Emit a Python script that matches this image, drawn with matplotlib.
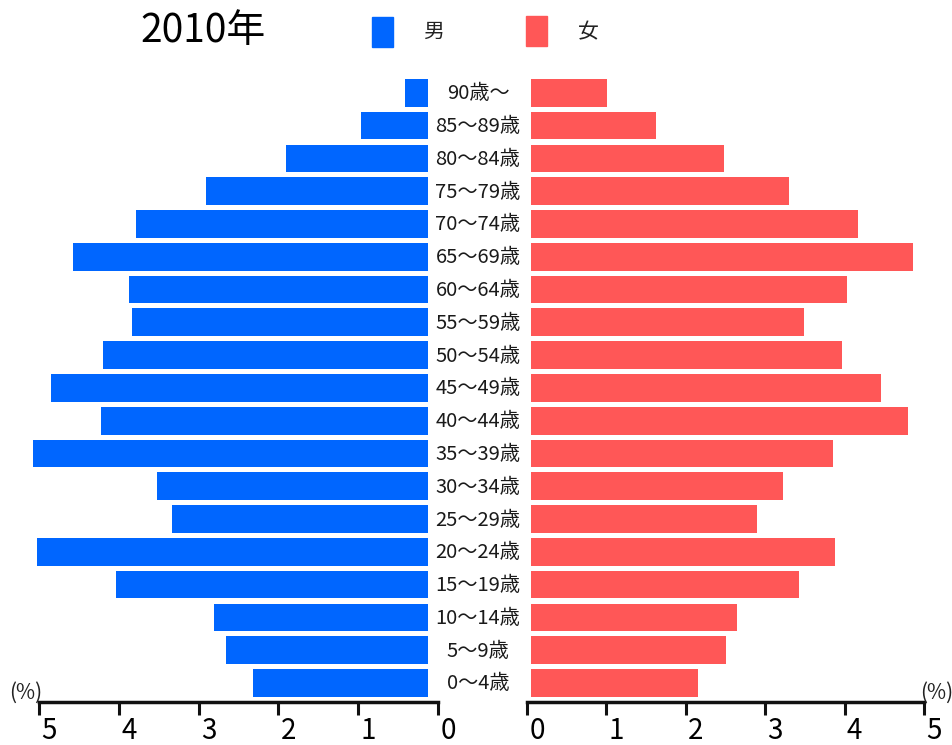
import matplotlib.pyplot as plt
from matplotlib.transforms import ScaledTranslation, blended_transform_factory

plt.rcParams['font.family'] = ['Noto Sans CJK JP', 'DejaVu Sans']

# 年齢階級（下から上へ）
ages = ['0〜4歳', '5〜9歳', '10〜14歳', '15〜19歳', '20〜24歳', '25〜29歳',
        '30〜34歳', '35〜39歳', '40〜44歳', '45〜49歳', '50〜54歳', '55〜59歳',
        '60〜64歳', '65〜69歳', '70〜74歳', '75〜79歳', '80〜84歳', '85〜89歳',
        '90歳〜']

# 構成比 (%)
male = [2.19, 2.53, 2.68, 3.90, 4.89, 3.20, 3.39, 4.94, 4.09, 4.71,
        4.06, 3.70, 3.74, 4.44, 3.65, 2.78, 1.78, 0.84, 0.29]
female = [2.09, 2.44, 2.58, 3.35, 3.80, 2.83, 3.15, 3.78, 4.71, 4.38,
          3.89, 3.41, 3.95, 4.78, 4.09, 3.23, 2.41, 1.56, 0.95]

ticks = [0, 1, 2, 3, 4, 5]
title = '2010年'

c_male = '#0066FF'
c_female = '#FF5757'

W, H = 952, 745
fig = plt.figure(figsize=(W / 100, H / 100), dpi=100)


def fx(px):
    return px / W


def fy(py):
    return (H - py) / H


# 棒グラフ領域
bar_bottom = fy(699.4)
bar_height = fy(76.4) - bar_bottom
ax_m = fig.add_axes([fx(28), bar_bottom, fx(400), bar_height])
ax_f = fig.add_axes([fx(531), bar_bottom, fx(400), bar_height])

y = list(range(len(ages)))
ax_m.barh(y, male, height=0.845, color=c_male)
ax_f.barh(y, female, height=0.845, color=c_female)
ax_m.set_xlim(5, 0)
ax_f.set_xlim(0, 5)
for ax in (ax_m, ax_f):
    ax.set_ylim(-0.5, len(ages) - 0.5)
    ax.axis('off')

# 年齢ラベル
trans = blended_transform_factory(fig.transFigure, ax_m.transData)
for i, lab in enumerate(ages):
    ax_m.text(fx(478), i - 0.03, lab, transform=trans, ha='center', va='center',
              fontsize=14.5, color='#1a1a1a', clip_on=False)

# 目盛り軸
offset = ScaledTranslation(0.10, 0, fig.dpi_scale_trans)
ax_sl = fig.add_axes([fx(39), fy(702), fx(399), 0.001])
ax_sr = fig.add_axes([fx(527), fy(702), fx(397), 0.001])
ax_sl.set_xlim(5, 0)
ax_sr.set_xlim(0, 5)
for ax in (ax_sl, ax_sr):
    for s in ('top', 'left', 'right'):
        ax.spines[s].set_visible(False)
    ax.spines['bottom'].set_linewidth(2.5)
    ax.spines['bottom'].set_color('#111111')
    ax.set_yticks([])
    ax.set_xticks(ticks)
    ax.set_xticklabels([str(t) for t in ticks])
    ax.tick_params(axis='x', direction='out', length=9.5, width=2.2,
                   color='#111111', labelsize=20, pad=0.5)
    ax.patch.set_visible(False)
    for lab in ax.get_xticklabels():
        lab.set_transform(lab.get_transform() + offset)

fig.text(fx(26), fy(693), '(%)', ha='center', va='center', fontsize=15, color='#222222')
fig.text(fx(937), fy(693), '(%)', ha='center', va='center', fontsize=15, color='#222222')

# タイトル・凡例
fig.text(fx(140), fy(31), title, ha='left', va='center', fontsize=28, color='black')
fig.patches.append(plt.Rectangle((fx(372), fy(47)), fx(21), fy(17) - fy(47),
                                 transform=fig.transFigure, color=c_male))
fig.patches.append(plt.Rectangle((fx(526), fy(46)), fx(21), fy(16) - fy(46),
                                 transform=fig.transFigure, color=c_female))
fig.text(fx(434), fy(32), '男', ha='center', va='center', fontsize=15, color='#222222')
fig.text(fx(588), fy(32), '女', ha='center', va='center', fontsize=15, color='#222222')

fig.savefig('out.png', dpi=100)
